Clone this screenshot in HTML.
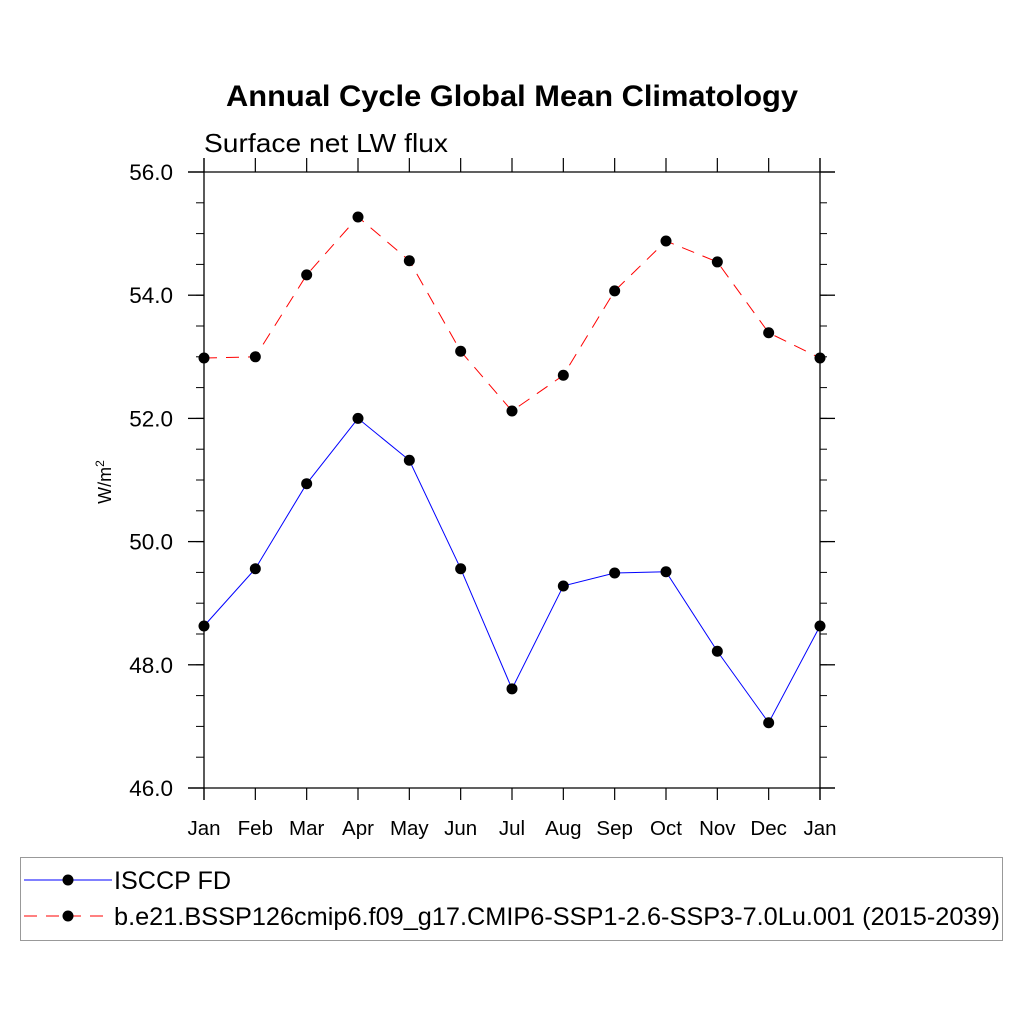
<!DOCTYPE html>
<html><head><meta charset="utf-8"><style>
html,body{margin:0;padding:0;background:#fff;}
svg{display:block;font-family:"Liberation Sans",Arial,sans-serif;}
</style></head><body>
<svg id="chart" width="1024" height="1024" viewBox="0 0 1024 1024" xmlns="http://www.w3.org/2000/svg">
<rect width="1024" height="1024" fill="#fff"/>
<text x="226" y="106" font-size="30" font-weight="bold" textLength="572" lengthAdjust="spacingAndGlyphs">Annual Cycle Global Mean Climatology</text>
<text x="204" y="152" font-size="26" textLength="244" lengthAdjust="spacingAndGlyphs">Surface net LW flux</text>
<text transform="translate(111,482) rotate(-90)" text-anchor="middle" font-size="18">W/m<tspan dy="-7" font-size="12">2</tspan></text>
<g id="axes"></g>
<g id="series"></g>
<g>
<rect x="20.5" y="857.5" width="982" height="83" fill="none" stroke="#999" stroke-width="1"/>
<g>
<line x1="24" y1="880" x2="112" y2="880" stroke="#0000ff" stroke-width="1"/>
<circle cx="68" cy="880" r="5.5" fill="#000"/>
<text x="114" y="889" font-size="25" textLength="117" lengthAdjust="spacingAndGlyphs">ISCCP FD</text>
</g>
<g>
<line x1="24" y1="916" x2="112" y2="916" stroke="#ff0000" stroke-width="1" stroke-dasharray="13,9"/>
<circle cx="68" cy="916" r="5.5" fill="#000"/>
<text x="114" y="925" font-size="25" textLength="886" lengthAdjust="spacingAndGlyphs">b.e21.BSSP126cmip6.f09_g17.CMIP6-SSP1-2.6-SSP3-7.0Lu.001 (2015-2039)</text>
</g>
</g>
</svg>
<script>
const months = ["Jan","Feb","Mar","Apr","May","Jun","Jul","Aug","Sep","Oct","Nov","Dec","Jan"];
const isccp = [48.63,49.56,50.94,52.0,51.32,49.56,47.61,49.28,49.49,49.51,48.22,47.06,48.63];
const model = [52.98,53.0,54.33,55.27,54.56,53.09,52.12,52.70,54.07,54.88,54.54,53.39,52.98];
const yTicks = [46,48,50,52,54,56];
const yTickLabels = ["46.0","48.0","50.0","52.0","54.0","56.0"];

const NS="http://www.w3.org/2000/svg";
const X0=204, DX=(820-204)/12, Y0=788, Y1=172, YMIN=46, YMAX=56;
const xs=i=>X0+i*DX;
const ys=v=>Y0-(v-YMIN)/(YMAX-YMIN)*(Y0-Y1);
function mk(tag,attrs,parent){const e=document.createElementNS(NS,tag);for(const k in attrs)e.setAttribute(k,attrs[k]);parent.appendChild(e);return e;}
const ax=document.getElementById('axes');
let l;
l=mk('line',{x1:X0,y1:158,x2:X0,y2:800,stroke:'#000','stroke-width':1.3},ax);


l=mk('line',{x1:820,y1:158,x2:820,y2:800,stroke:'#000','stroke-width':1.3},ax);


l=mk('line',{x1:188,y1:Y1,x2:835,y2:Y1,stroke:'#000','stroke-width':1.3},ax);


l=mk('line',{x1:188,y1:Y0,x2:835,y2:Y0,stroke:'#000','stroke-width':1.3},ax);


months.forEach((m,i)=>{
  const x=xs(i);
  mk('line',{x1:x,y1:Y0,x2:x,y2:800,stroke:'#000','stroke-width':1.2},ax);
  mk('line',{x1:x,y1:Y1,x2:x,y2:158,stroke:'#000','stroke-width':1.2},ax);
  const t=mk('text',{x:x,y:835,'text-anchor':'middle','font-size':20.5},ax);
  t.textContent=m;
  
  
});
for(let v=YMIN;v<=YMAX+1e-9;v+=0.5){
  const y=ys(v);
  mk('line',{x1:196,y1:y,x2:X0,y2:y,stroke:'#000','stroke-width':1},ax);
  mk('line',{x1:820,y1:y,x2:827,y2:y,stroke:'#000','stroke-width':1},ax);
}
yTicks.forEach((v,i)=>{
  const y=ys(v);
  mk('line',{x1:188,y1:y,x2:X0,y2:y,stroke:'#000','stroke-width':1.3},ax);
  mk('line',{x1:820,y1:y,x2:835,y2:y,stroke:'#000','stroke-width':1.3},ax);
  const t=mk('text',{x:173,y:y+8,'text-anchor':'end','font-size':22.5},ax);
  t.textContent=yTickLabels[i];
  
  
});
const sg=document.getElementById('series');
function drawSeries(vals,color,dash,name){
  const pts=vals.map((v,i)=>xs(i)+','+ys(v)).join(' ');
  const p=mk('polyline',{points:pts,fill:'none',stroke:color,'stroke-width':1,'stroke-dasharray':dash},sg);
  
  
  vals.forEach((v,i)=>{
    const c=mk('circle',{cx:xs(i),cy:ys(v),r:5.5,fill:'#000'},sg);
    
    
  });
}
drawSeries(isccp,'#0000ff','none','isccp');
drawSeries(model,'#ff0000','13,9','model');
</script>
</body></html>
